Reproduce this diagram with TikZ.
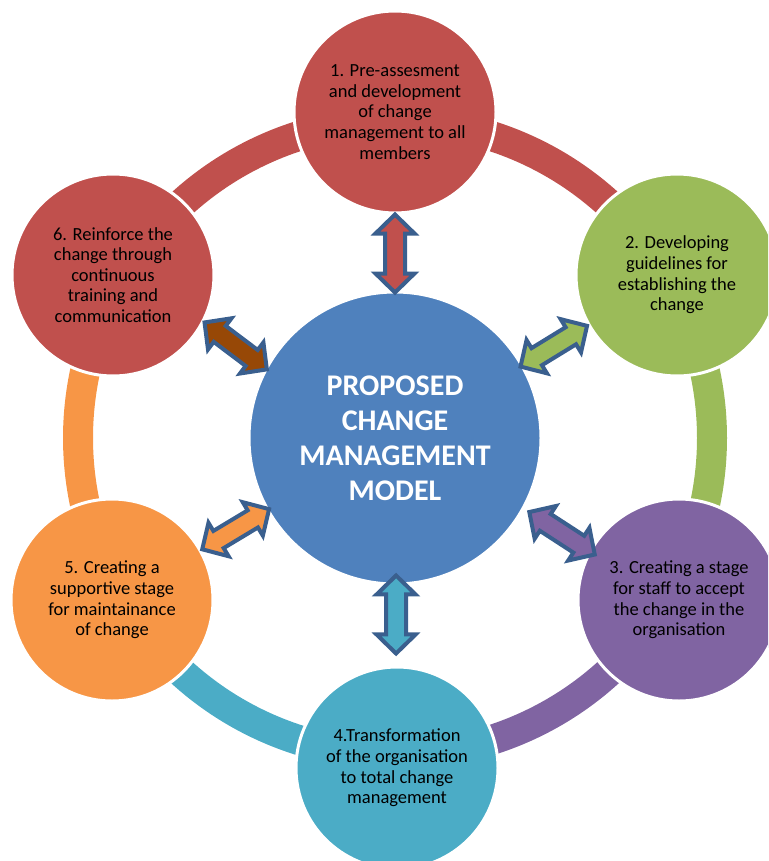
\documentclass[tikz,border=0pt]{standalone}
\usepackage{fontspec}
\setmainfont{Carlito}
\usetikzlibrary{calc}
\definecolor{cred}{HTML}{C0504D}
\definecolor{cgreen}{HTML}{9BBB59}
\definecolor{cpurple}{HTML}{8064A2}
\definecolor{cteal}{HTML}{4BACC6}
\definecolor{corange}{HTML}{F79646}
\definecolor{cblue}{HTML}{4F81BD}
\definecolor{cstroke}{HTML}{3A5F8E}
\definecolor{cbrown}{HTML}{974806}
\newcommand\bidir[4]{%
  \draw[dblarrow, fill=#1, shift={($(hub)!#3pt!(#2)$)}, rotate=#4]
    (-39,0) -- (-20,19.5) -- (-20,10) -- (20,10) -- (20,19.5) -- (39,0)
    -- (20,-19.5) -- (20,-10) -- (-20,-10) -- (-20,-19.5) -- cycle;}
\begin{document}
\begin{tikzpicture}[x=1pt,y=1pt,
  stage/.style={circle, draw=white, line width=3pt, minimum size=202pt, inner sep=0pt,
    align=center, text=black, font=\fontsize{18.5}{20.6}\selectfont},
  hub/.style={circle, draw=white, line width=3pt, fill=cblue, minimum size=292pt, inner sep=0pt,
    align=center, text=white, font=\fontsize{30}{35}\selectfont\bfseries},
  band/.style={line width=30pt},
  dblarrow/.style={draw=cstroke, line width=4pt, line join=miter, miter limit=10}]
\useasboundingbox (0,0) rectangle (768,-861);
\clip (0,0) rectangle (768,-861);
\coordinate (o) at (395,-438);
% ring segments
\draw[band, cred]    ($(o)+(90:317)$)   arc[start angle=90,   end angle=30,   radius=317];
\draw[band, cgreen]  ($(o)+(30:317)$)   arc[start angle=30,   end angle=-30,  radius=317];
\draw[band, cpurple] ($(o)+(-30:317)$)  arc[start angle=-30,  end angle=-90,  radius=317];
\draw[band, cteal]   ($(o)+(-90:317)$)  arc[start angle=-90,  end angle=-150, radius=317];
\draw[band, corange] ($(o)+(-150:317)$) arc[start angle=-150, end angle=-210, radius=317];
\draw[band, cred]    ($(o)+(150:317)$)  arc[start angle=150,  end angle=90,   radius=317];
% stage circles
\node[stage, fill=cred]    (n1) at (395,-112) {1. Pre-assesment\\and development\\of change\\management to all\\members};
\node[stage, fill=cgreen]  (n2) at (677,-275) {2. Developing\\guidelines for\\establishing the\\change};
\node[stage, fill=cpurple] (n3) at (679,-600) {3. Creating a stage\\for staff to accept\\the change in the\\organisation};
\node[stage, fill=cteal]   (n4) at (397,-768) {4.Transformation\\of the organisation\\to total change\\management};
\node[stage, fill=corange] (n5) at (112,-600) {5. Creating a\\supportive stage\\for maintainance\\of change};
\node[stage, fill=cred]    (n6) at (113,-275) {6. Reinforce the\\change through\\continuous\\training and\\communication};
% hub
\node[hub] (hub) at (o) {PROPOSED\\CHANGE\\MANAGEMENT\\MODEL};
% double arrows
\bidir{cred}{n1}{184.5}{90}
\bidir{cgreen}{n2}{183.4}{31.5}
\bidir{cpurple}{n3}{192.3}{-33}
\bidir{cteal}{n4}{176.5}{90}
\bidir{corange}{n5}{183.6}{31}
\bidir{cbrown}{n6}{184}{-37}
\end{tikzpicture}
\end{document}
